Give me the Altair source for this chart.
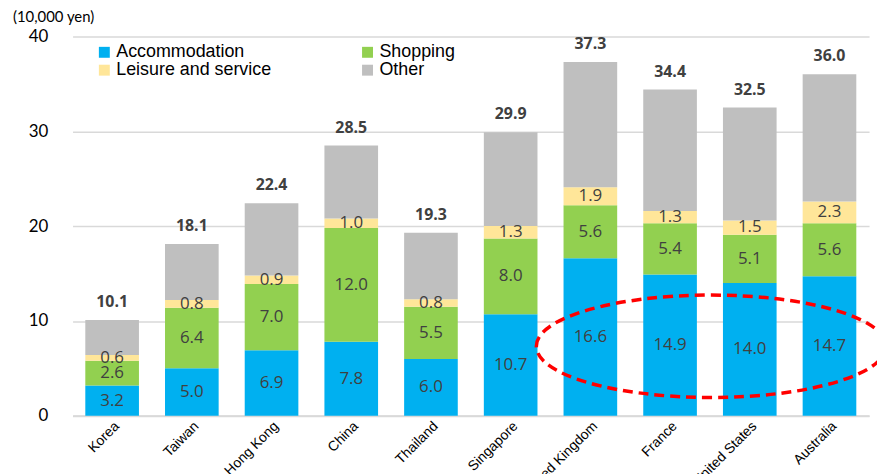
import altair as alt
import pandas as pd

countries = ["Korea", "Taiwan", "Hong Kong", "China", "Thailand", "Singapore",
             "United Kingdom", "France", "United States", "Australia"]
categories = ["Accommodation", "Shopping", "Leisure and service", "Other"]
accommodation = [3.2, 5.0, 6.9, 7.8, 6.0, 10.7, 16.6, 14.9, 14.0, 14.7]
shopping = [2.6, 6.4, 7.0, 12.0, 5.5, 8.0, 5.6, 5.4, 5.1, 5.6]
leisure = [0.6, 0.8, 0.9, 1.0, 0.8, 1.3, 1.9, 1.3, 1.5, 2.3]
other = [3.7, 5.9, 7.6, 7.7, 7.0, 9.9, 13.2, 12.8, 11.9, 13.4]
totals = [10.1, 18.1, 22.4, 28.5, 19.3, 29.9, 37.3, 34.4, 32.5, 36.0]
colors = ["#00B0F0", "#92D050", "#FFE699", "#BFBFBF"]

rows = []
for i, c in enumerate(countries):
    base = 0.0
    for k, (cat, vals) in enumerate(zip(categories, [accommodation, shopping, leisure, other])):
        v = vals[i]
        rows.append({"country": c, "category": cat, "value": v, "order": k,
                     "mid": base + v / 2, "label": f"{v:.1f}", "show": cat != "Other"})
        base += v
df = pd.DataFrame(rows)
tot = pd.DataFrame({"country": countries, "total": totals,
                    "label": [f"{t:.1f}" for t in totals]})

xenc = alt.X("country:N", sort=countries, title=None,
             scale=alt.Scale(paddingInner=0.327, paddingOuter=0.16),
             axis=alt.Axis(labelAngle=-45, labelFont="Liberation Sans", labelFontSize=14,
                           labelColor="#000000", ticks=False, domainColor="#D9D9D9",
                           domainWidth=2, labelPadding=3, grid=False))
yscale = alt.Scale(domain=[0, 40])

bars = alt.Chart(df).mark_bar().encode(
    x=xenc,
    y=alt.Y("value:Q", stack="zero", scale=yscale, title=None,
            axis=alt.Axis(values=[0, 10, 20, 30, 40], domain=False, ticks=False,
                          gridColor="#D9D9D9", gridWidth=1.5, labelFont="Lato",
                          labelFontSize=17, labelColor="#000000", labelPadding=25)),
    color=alt.Color("category:N", sort=categories,
                    scale=alt.Scale(domain=categories, range=colors),
                    legend=alt.Legend(title=None, orient="none", legendX=23, legendY=7,
                                      columns=2, direction="horizontal",
                                      columnPadding=87, rowPadding=-3,
                                      symbolType="square", symbolSize=121, labelOffset=3,
                                      symbolStrokeWidth=0, labelFont="Liberation Sans",
                                      labelFontSize=18, labelColor="#000000",
                                      labelLimit=300)),
    order=alt.Order("order:Q", sort="ascending"),
)

seg_labels = alt.Chart(df).transform_filter("datum.show").mark_text(
    font="Open Sans", fontSize=17, color="#404040", baseline="middle"
).encode(x=alt.X("country:N", sort=countries), y=alt.Y("mid:Q", scale=yscale), text="label:N")

tot_labels = alt.Chart(tot).mark_text(
    font="Open Sans", fontSize=16, fontWeight="bold", color="#404040",
    baseline="bottom", dy=-10
).encode(x=alt.X("country:N", sort=countries), y=alt.Y("total:Q", scale=yscale), text="label:N")

unit = alt.Chart(pd.DataFrame({"t": ["(10,000 yen)"]})).mark_text(
    font="Lato", fontSize=15, color="#000000", align="left", baseline="middle"
).encode(x=alt.value(-60), y=alt.value(-20), text="t:N")

b = 0.293
k = 0.5523
path = (f"M -1 0 C -1 {-k*b:.4f} {-k:.4f} {-b} 0 {-b} C {k:.4f} {-b} 1 {-k*b:.4f} 1 0 "
        f"C 1 {k*b:.4f} {k:.4f} {b} 0 {b} C {-k:.4f} {b} -1 {k*b:.4f} -1 0 Z")
ellipse = alt.Chart(pd.DataFrame({"a": [1]})).mark_point(
    shape=path, filled=False, stroke="#FF0000", strokeWidth=3.5, strokeDash=[10, 6],
    size=352 * 352, opacity=1
).encode(x=alt.value(643), y=alt.value(312))

chart = alt.layer(bars, seg_labels, tot_labels, unit, ellipse).properties(
    width=802, height=382,
    autosize=alt.AutoSizeParams(type="none"),
    padding={"left": 65, "top": 27, "right": 8, "bottom": 57},
).configure_view(stroke=None)

chart.save("out.html", embed_options={"renderer": "svg", "actions": False})
